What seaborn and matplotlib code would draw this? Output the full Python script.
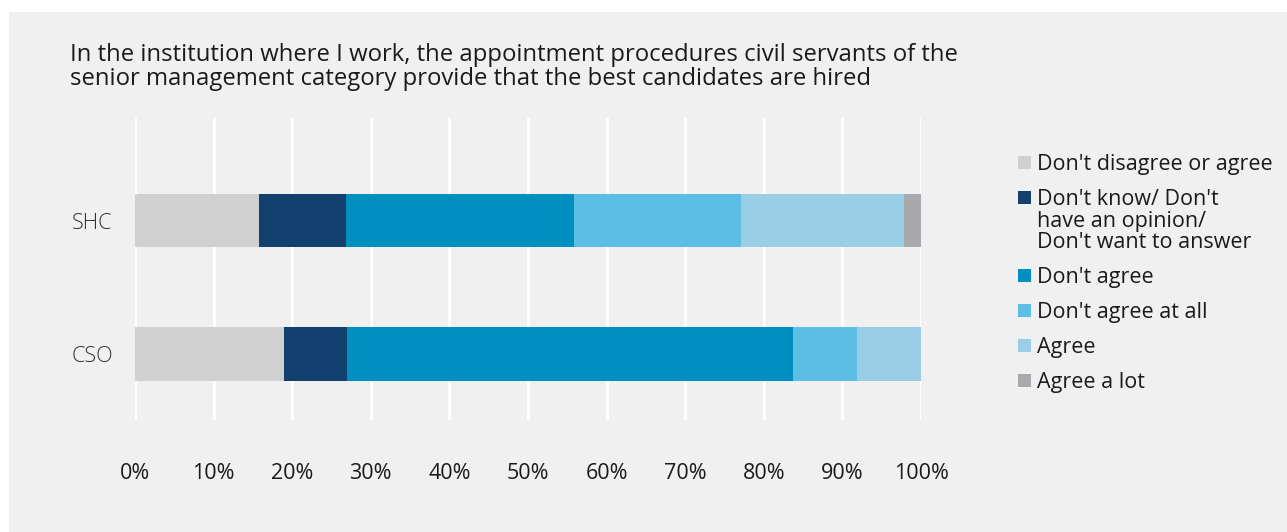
import numpy as np
import pandas as pd
import matplotlib
matplotlib.use("Agg")
import matplotlib.pyplot as plt
import matplotlib.patches as mpatches
import seaborn as sns

# Survey answers (% of respondents) per group
groups = ["SHC", "CSO"]
answers = [
    "Don't disagree or agree",
    "Don't know/ Don't\nhave an opinion/\nDon't want to answer",
    "Don't agree",
    "Don't agree at all",
    "Agree",
    "Agree a lot",
]
shc_values = [15.8, 11.0, 29.1, 21.2, 20.7, 2.2]
cso_values = [18.9, 8.1, 56.7, 8.2, 8.1, 0.0]
colors = ["#d0d0d0", "#124170", "#0090bf", "#5dbee5", "#9acde6", "#a7a9ac"]
x_ticks = [0, 10, 20, 30, 40, 50, 60, 70, 80, 90, 100]
title_lines = [
    "In the institution where I work, the appointment procedures civil servants of the",
    "senior management category provide that the best candidates are hired",
]

sns.set_theme(style="white")
plt.rcParams["font.family"] = ["Open Sans", "DejaVu Sans"]

W, H = 1287, 532
bg = "#f0f0f0"
fig = plt.figure(figsize=(W / 100, H / 100), dpi=100, facecolor="white")
# grey panel behind everything
fig.patches.append(mpatches.Rectangle((9 / W, 0), 1, 1 - 12 / H,
                                      transform=fig.transFigure, facecolor=bg,
                                      edgecolor="none", zorder=-10))

ax = fig.add_axes([135 / W, 1 - 420 / H, (921 - 135) / W, (420 - 118) / H])
ax.set_facecolor(bg)

# stacked bars: draw cumulative totals from the largest down so each segment shows
df = pd.DataFrame([shc_values, cso_values], index=groups, columns=answers)
cum = df.cumsum(axis=1)
for i in range(len(answers) - 1, -1, -1):
    sub = pd.DataFrame({"group": groups, "value": cum.iloc[:, i].values})
    sns.barplot(data=sub, x="value", y="group", orient="h", order=groups,
                color=colors[i], saturation=1, width=0.4, ax=ax,
                linewidth=0, zorder=3)

ax.set_xlim(0, 100)
ax.set_ylim(1.494, -0.768)
ax.set_xticks(x_ticks)
ax.set_xticklabels([f"{t}%" for t in x_ticks], fontsize=15.5, color="#1a1a1a")
ax.set_yticks([0, 1])
ax.set_yticklabels(groups, fontsize=15.5, color="#333333", fontweight="light")
ax.tick_params(axis="x", length=0, pad=31)
ax.tick_params(axis="y", length=0, pad=16)
ax.set_xlabel("")
ax.set_ylabel("")
ax.grid(axis="x", color="white", linewidth=2.2, zorder=0)
ax.grid(axis="y", visible=False)
ax.set_axisbelow(True)
for s in ax.spines.values():
    s.set_visible(False)

# two-line title, baselines set explicitly
for k, line in enumerate(title_lines):
    fig.text(70 / W, 1 - (61 + 24 * k) / H, line, fontsize=17.2, color="#1a1a1a",
             ha="left", va="baseline")

# legend: square key aligned with the first line of each (possibly wrapped) label
y = 162.0
entry_gap, line_gap, key = 35.0, 21.5, 13.0
for label, c in zip(answers, colors):
    fig.patches.append(mpatches.Rectangle((1018 / W, 1 - (y + key / 2) / H), key / W, key / H,
                                          transform=fig.transFigure, facecolor=c,
                                          edgecolor="none"))
    for k, line in enumerate(label.split("\n")):
        fig.text(1037 / W, 1 - (y + k * line_gap) / H, line, fontsize=15.5,
                 color="#1a1a1a", ha="left", va="center_baseline")
    y += entry_gap + line_gap * label.count("\n")

fig.savefig("out.png", dpi=100, facecolor="white")
